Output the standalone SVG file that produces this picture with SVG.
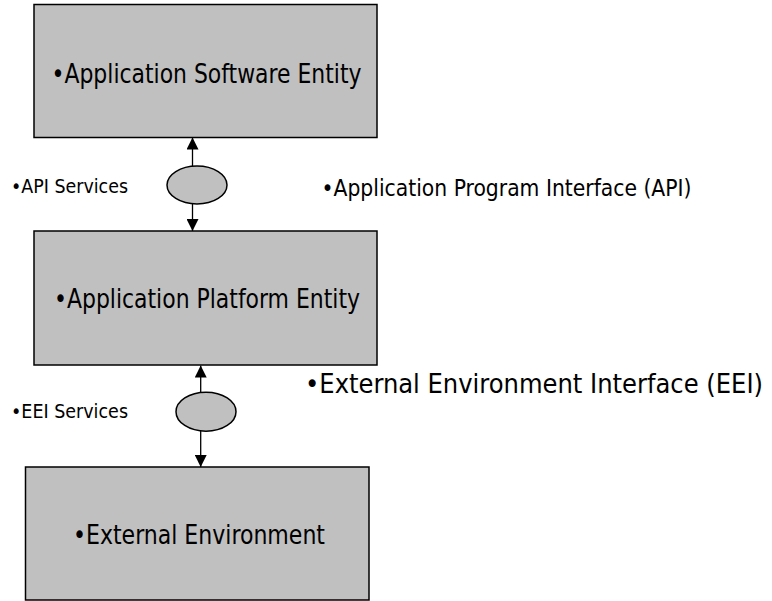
<svg xmlns="http://www.w3.org/2000/svg" width="772" height="601" viewBox="0 0 772 601">
<style>
.box{fill:#c0c0c0;stroke:#000;stroke-width:1.5}
.ell{fill:#c0c0c0;stroke:#000;stroke-width:1.5}
.t{font-family:"DejaVu Sans Condensed","DejaVu Sans","Liberation Sans",sans-serif;font-stretch:condensed;fill:#000}
.big{font-size:26px}
.mid{font-size:23px}
.small{font-size:19px}
.con{stroke:#000;stroke-width:1.3;fill:none}
</style>
<defs>
<marker id="ah" viewBox="0 0 12 12" refX="12" refY="6" markerWidth="12" markerHeight="12" markerUnits="userSpaceOnUse" orient="auto">
<path d="M0,0 L12,6 L0,12 Z" fill="#000"/>
</marker>
</defs>
<rect width="772" height="601" fill="#fff"/>
<g id="connectors">
<line class="con" x1="192.5" y1="167" x2="192.5" y2="137.5" marker-end="url(#ah)"/>
<line class="con" x1="192.5" y1="204" x2="192.5" y2="231" marker-end="url(#ah)"/>
<line class="con" x1="200.7" y1="393" x2="200.7" y2="365.5" marker-end="url(#ah)"/>
<line class="con" x1="200.7" y1="431" x2="200.7" y2="467" marker-end="url(#ah)"/>
</g>
<g id="app-software">
<rect class="box" x="34" y="4.5" width="343" height="133"/>
<text class="t big" x="51.5" y="83" textLength="310" lengthAdjust="spacingAndGlyphs">•Application Software Entity</text>
</g>
<g id="api">
<ellipse class="ell" cx="197" cy="185" rx="30" ry="19"/>
<text class="t small" x="11" y="193" textLength="117" lengthAdjust="spacingAndGlyphs">•API Services</text>
<text class="t mid" x="321.5" y="196" textLength="370" lengthAdjust="spacingAndGlyphs">•Application Program Interface (API)</text>
</g>
<g id="app-platform">
<rect class="box" x="34" y="231" width="343" height="134"/>
<text class="t big" x="54" y="308" textLength="306" lengthAdjust="spacingAndGlyphs">•Application Platform Entity</text>
</g>
<g id="eei">
<ellipse class="ell" cx="206" cy="411.7" rx="30" ry="19.5"/>
<text class="t small" x="11" y="418" textLength="117" lengthAdjust="spacingAndGlyphs">•EEI Services</text>
<text class="t big" x="305" y="393" textLength="458" lengthAdjust="spacingAndGlyphs">•External Environment Interface (EEI)</text>
</g>
<g id="external-env">
<rect class="box" x="25.5" y="467" width="343.5" height="133"/>
<text class="t big" x="73" y="544" textLength="252" lengthAdjust="spacingAndGlyphs">•External Environment</text>
</g>
</svg>
